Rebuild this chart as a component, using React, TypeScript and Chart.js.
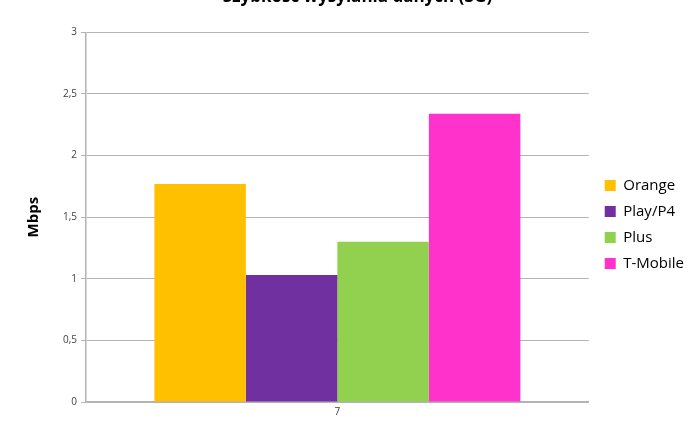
import React, { useEffect, useRef } from 'react';
import { Chart, ChartConfiguration, registerables } from 'chart.js';

Chart.register(...registerables);

const categories = ['7'];
const operators = ['Orange', 'Play/P4', 'Plus', 'T-Mobile'];
const speeds = [1.77, 1.03, 1.3, 2.34];
const colors = ['#FFC000', '#7030A0', '#92D050', '#FF33CC'];

const FONT = '"Open Sans", "Liberation Sans", sans-serif';

const App: React.FC = () => {
  const canvasRef = useRef<HTMLCanvasElement>(null);

  useEffect(() => {
    if (!canvasRef.current) return;
    const ctx = canvasRef.current.getContext('2d');
    if (!ctx) return;

    const config: ChartConfiguration<'bar'> = {
      type: 'bar',
      data: {
        labels: categories,
        datasets: operators.map((name, i) => ({
          label: name,
          data: [speeds[i]],
          backgroundColor: colors[i],
          borderWidth: 0,
          categoryPercentage: 0.728,
          barPercentage: 1
        }))
      },
      options: {
        animation: false,
        responsive: true,
        maintainAspectRatio: false,
        layout: { padding: { left: 21, right: 6, top: 0, bottom: 0 } },
        scales: {
          x: {
            grid: { display: false, drawTicks: false },
            border: { display: true, color: '#b3b3b3', width: 1.5 },
            ticks: { color: '#404040', font: { family: FONT, size: 10 }, padding: 4 },
            title: {
              display: true,
              text: 'Tydzień',
              color: '#000',
              font: { family: FONT, size: 15, weight: 'bold' },
              padding: { top: 18 }
            }
          },
          y: {
            min: 0,
            max: 3,
            ticks: {
              stepSize: 0.5,
              color: '#404040',
              font: { family: FONT, size: 10 },
              padding: 4,
              callback: (v) => String(v).replace('.', ',')
            },
            grid: { color: '#b3b3b3', lineWidth: 1, tickLength: 5 },
            border: { display: true, color: '#b3b3b3', width: 1.5 },
            title: {
              display: true,
              text: 'Mbps',
              color: '#000',
              font: { family: FONT, size: 15, weight: 'bold' },
              padding: { bottom: 16 }
            }
          },
          // empty right-hand axis, only keeps a gap between the plot and the legend
          gap: {
            position: 'right',
            display: true,
            grid: { display: false },
            border: { display: false },
            ticks: { display: false },
            afterFit: (scale) => {
              scale.width = 5;
            }
          }
        },
        plugins: {
          title: {
            display: true,
            text: 'Szybkość wysyłania danych (3G)',
            color: '#000',
            font: { family: FONT, size: 17, weight: 'bold' },
            padding: { top: 0, bottom: 25 }
          },
          legend: {
            position: 'right',
            labels: {
              boxWidth: 11,
              boxHeight: 11,
              padding: 11,
              color: '#000',
              font: { family: FONT, size: 15 }
            }
          },
          tooltip: { enabled: false }
        }
      }
    };

    const chart = new Chart(ctx, config);
    return () => chart.destroy();
  }, []);

  return (
    <div style={{ position: 'fixed', left: 0, top: -13, width: 700, height: 475, background: '#fff' }}>
      <canvas ref={canvasRef} />
    </div>
  );
};

export default App;
